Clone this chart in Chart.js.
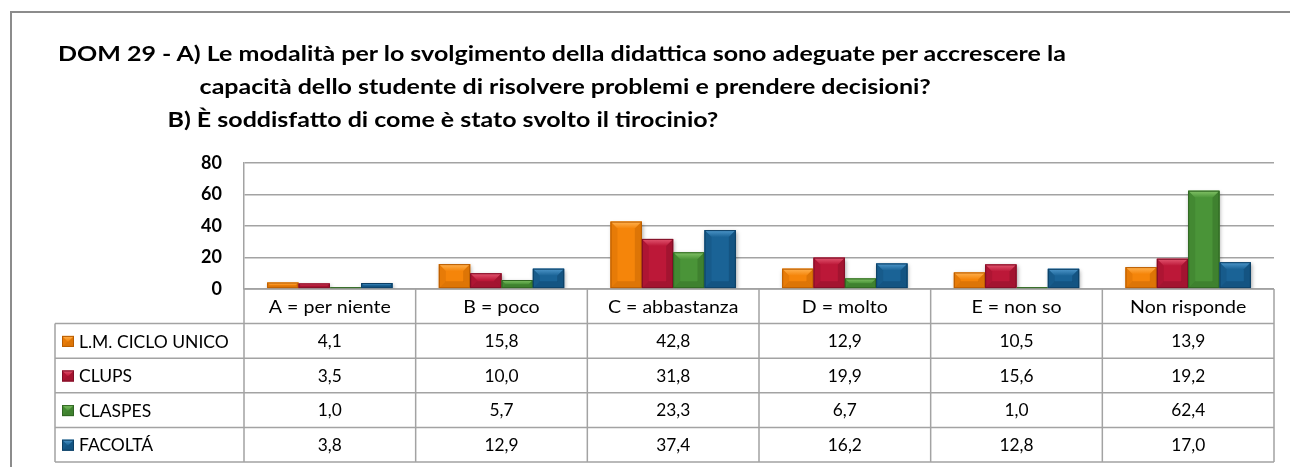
<!DOCTYPE html>
<html>
<head>
<meta charset="utf-8">
<script src="https://cdn.jsdelivr.net/npm/chart.js@4.4.1/dist/chart.umd.min.js"></script>
<style>
  body { margin: 0; background: #fff; width: 1290px; height: 467px; overflow: hidden; position: relative; font-family: Lato, sans-serif; }
  #frame { position: absolute; left: 10px; top: 11px; right: -4px; bottom: -4px; border-top: 2px solid #8c8c8c; border-left: 2px solid #8c8c8c; }
  #chart { position: absolute; left: 0; top: 0; }
  #title { position: absolute; left: 58px; top: 36px; font-weight: bold; font-size: 21px; line-height: 33px; color: #000; white-space: nowrap; transform: scaleX(1.19); transform-origin: 0 0; }
  #title .l2 { padding-left: 119px; }
  #title .l3 { padding-left: 92px; }
</style>
</head>
<body>
<div id="frame"></div>
<canvas id="chart" width="1290" height="467"></canvas>
<div id="title">
  <div>DOM 29 - A) Le modalità per lo svolgimento della didattica sono adeguate per accrescere la</div>
  <div class="l2">capacità dello studente di risolvere problemi e prendere decisioni?</div>
  <div class="l3">B) È soddisfatto di come è stato svolto il tirocinio?</div>
</div>
<script>
// dati
const categories = ['A = per niente', 'B = poco', 'C = abbastanza', 'D = molto', 'E = non so', 'Non risponde'];
const seriesNames = ['L.M. CICLO UNICO', 'CLUPS', 'CLASPES', 'FACOLTÁ'];
const lmCicloUnico = [4.1, 15.8, 42.8, 12.9, 10.5, 13.9];
const clups = [3.5, 10.0, 31.8, 19.9, 15.6, 19.2];
const claspes = [1.0, 5.7, 23.3, 6.7, 1.0, 62.4];
const facolta = [3.8, 12.9, 37.4, 16.2, 12.8, 17.0];
const yTicks = [0, 20, 40, 60, 80];

// colori: base, luce, ombra
const palette = [
  { base: '#F5850A', light: '#FFB352', dark: '#B85C00' },
  { base: '#BC1838', light: '#E45872', dark: '#7E0E26' },
  { base: '#4A9438', light: '#84C468', dark: '#2F6522' },
  { base: '#1A6396', light: '#4F98CB', dark: '#0D3F64' }
];

const seriesData = [lmCicloUnico, clups, claspes, facolta];
const fmt = v => v.toFixed(1).replace('.', ',');

function bevel(ctx, l, t, r, b, col) {
  const h = b - t, w = r - l;
  const d = Math.min(7, h / 2, w / 2);
  ctx.save();
  ctx.fillStyle = col.base;
  ctx.fillRect(l, t, w, h);
  if (d > 0.5) {
    // faccia superiore chiara
    const g = ctx.createLinearGradient(0, t, 0, t + d);
    g.addColorStop(0, col.light);
    g.addColorStop(1, col.base);
    ctx.fillStyle = g;
    ctx.beginPath();
    ctx.moveTo(l, t); ctx.lineTo(r, t); ctx.lineTo(r - d, t + d); ctx.lineTo(l + d, t + d);
    ctx.closePath(); ctx.fill();
    // lati
    ctx.globalAlpha = 0.4;
    ctx.fillStyle = col.dark;
    ctx.beginPath();
    ctx.moveTo(r, t); ctx.lineTo(r, b); ctx.lineTo(r - d, b - d); ctx.lineTo(r - d, t + d);
    ctx.closePath(); ctx.fill();
    ctx.beginPath();
    ctx.moveTo(l, b); ctx.lineTo(r, b); ctx.lineTo(r - d, b - d); ctx.lineTo(l + d, b - d);
    ctx.closePath(); ctx.fill();
    ctx.globalAlpha = 0.22;
    ctx.beginPath();
    ctx.moveTo(l, t); ctx.lineTo(l + d, t + d); ctx.lineTo(l + d, b - d); ctx.lineTo(l, b);
    ctx.closePath(); ctx.fill();
  }
  ctx.globalAlpha = 1;
  ctx.strokeStyle = col.dark;
  ctx.lineWidth = 1;
  ctx.strokeRect(l + 0.5, t + 0.5, Math.max(w - 1, 0), Math.max(h - 1, 0));
  ctx.restore();
}

const bevelPlugin = {
  id: 'bevel',
  beforeDatasetsDraw(chart) {
    const ctx = chart.ctx;
    ctx.save();
    ctx.shadowColor = 'rgba(0,0,0,0.35)';
    ctx.shadowBlur = 4;
    ctx.shadowOffsetX = 1;
    ctx.shadowOffsetY = 2;
  },
  afterDatasetsDraw(chart) {
    const ctx = chart.ctx;
    ctx.restore();
    chart.data.datasets.forEach((ds, i) => {
      chart.getDatasetMeta(i).data.forEach(bar => {
        const p = bar.getProps(['x', 'y', 'base', 'width'], true);
        bevel(ctx, p.x - p.width / 2, p.y, p.x + p.width / 2, p.base, palette[i]);
      });
    });
  }
};

// testo allargato in orizzontale come nell'originale
function wideText(ctx, txt, x, y, sx) {
  ctx.save();
  ctx.translate(x, y);
  ctx.scale(sx, 1);
  ctx.fillText(txt, 0, 0);
  ctx.restore();
}

const tablePlugin = {
  id: 'dataTable',
  afterDraw(chart) {
    const ctx = chart.ctx;
    const area = chart.chartArea;
    const xs = chart.scales.x;
    const colW = area.width / categories.length;
    const rowH = 34.6;
    const tableLeft = 55;
    const top = area.bottom;
    const nRows = seriesNames.length + 1;
    ctx.save();
    ctx.strokeStyle = '#a3a3a3';
    ctx.lineWidth = 1.5;
    ctx.beginPath();
    // righe orizzontali
    ctx.moveTo(area.left, top); ctx.lineTo(area.right, top);
    for (let r = 1; r <= nRows; r++) {
      const y = top + r * rowH;
      ctx.moveTo(tableLeft, y); ctx.lineTo(area.right, y);
    }
    // colonne
    ctx.moveTo(tableLeft, top + rowH); ctx.lineTo(tableLeft, top + nRows * rowH);
    for (let c = 0; c <= categories.length; c++) {
      const x = area.left + c * colW;
      ctx.moveTo(x, top); ctx.lineTo(x, top + nRows * rowH);
    }
    ctx.stroke();

    ctx.fillStyle = '#000';
    ctx.textBaseline = 'middle';
    ctx.textAlign = 'center';
    ctx.font = '17px Lato';
    categories.forEach((cat, c) => {
      wideText(ctx, cat, xs.getPixelForValue(c), top + rowH / 2 + 1, 1.15);
    });
    seriesData.forEach((vals, s) => {
      const cy = top + (s + 1) * rowH + rowH / 2 + 1;
      ctx.font = '16.5px Lato';
      ctx.textAlign = 'center';
      vals.forEach((v, c) => {
        wideText(ctx, fmt(v), xs.getPixelForValue(c), cy, 1.05);
      });
      bevel(ctx, 62, cy - 6, 74, cy + 5, palette[s]);
      ctx.textAlign = 'left';
      ctx.font = '17.5px Lato';
      ctx.fillText(seriesNames[s], 79, cy);
    });
    ctx.restore();
  }
};

new Chart(document.getElementById('chart'), {
  type: 'bar',
  data: {
    labels: categories,
    datasets: seriesNames.map((name, i) => ({
      label: name,
      data: seriesData[i],
      backgroundColor: palette[i].base,
      borderWidth: 0,
      categoryPercentage: 0.73,
      barPercentage: 1.0
    }))
  },
  options: {
    responsive: false,
    animation: false,
    layout: { padding: { left: 184, top: 163, right: 16, bottom: 0 } },
    plugins: { legend: { display: false }, tooltip: { enabled: false }, title: { display: false } },
    scales: {
      x: {
        grid: { display: false },
        border: { display: false },
        ticks: { display: false },
        afterFit(scale) { scale.height = 178; }
      },
      y: {
        min: 0,
        max: 80,
        afterFit(scale) { scale.width = 60; },
        afterBuildTicks(scale) { scale.ticks = yTicks.map(v => ({ value: v })); },
        ticks: { color: '#000', padding: 22, font: { family: 'Lato', size: 18, weight: 'bold' } },
        grid: { color: '#a3a3a3', lineWidth: 1.5, drawTicks: false },
        border: { display: true, color: '#a3a3a3', width: 1.5 }
      }
    }
  },
  plugins: [bevelPlugin, tablePlugin]
});
</script>
</body>
</html>
